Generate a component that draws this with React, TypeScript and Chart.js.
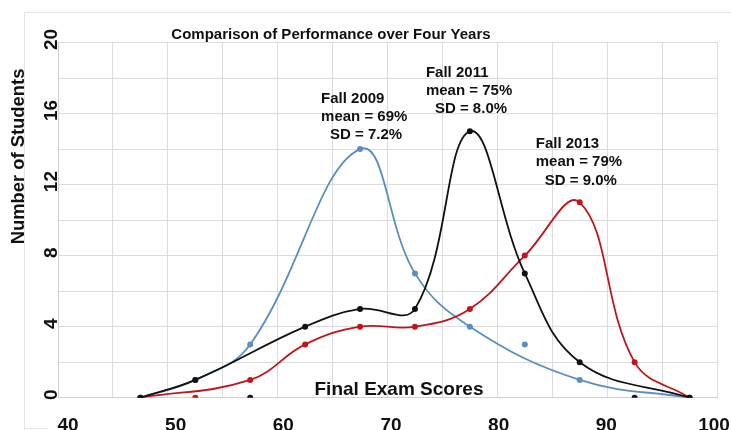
import React, { useEffect, useRef } from "react";
import { Chart, registerables } from "chart.js";

Chart.register(...registerables);

// Bin centres (final exam score, %)
const fall2009X = [47.5, 52.5, 57.5, 67.5, 72.5, 77.5, 87.5, 97.5];
const fall2009Y = [0, 1, 3, 14, 7, 4, 1, 0];
const fall2011X = [47.5, 52.5, 62.5, 67.5, 72.5, 77.5, 82.5, 87.5, 97.5];
const fall2011Y = [0, 1, 4, 5, 5, 15, 7, 2, 0];
const fall2013X = [47.5, 57.5, 62.5, 67.5, 72.5, 77.5, 82.5, 87.5, 92.5, 97.5];
const fall2013Y = [0, 1, 3, 4, 4, 5, 8, 11, 2, 0];
// stray markers not joined by the smoothed curves
const stray2009X = [82.5];
const stray2009Y = [3];
const stray2011X = [57.5, 92.5];
const stray2011Y = [0, 0];
const stray2013X = [52.5];
const stray2013Y = [0];

const xTickLabels = [40, 50, 60, 70, 80, 90, 100];
const yTickLabels = [0, 4, 8, 12, 16, 20];

const chartTitle = "Comparison of Performance over Four Years";
const xTitle = "Final Exam Scores";
const yTitle = "Number of Students";

const notes = [
  { lines: ["Fall 2009", "mean = 69%", "SD = 7.2%"], x: 63.95, y: 16.6 },
  { lines: ["Fall 2011", "mean = 75%", "SD = 8.0%"], x: 73.5, y: 18.07 },
  { lines: ["Fall 2013", "mean = 79%", "SD = 9.0%"], x: 83.5, y: 14.06 },
];

const BLUE = "#5b8ec2";
const BLACK = "#111111";
const RED = "#c0161b";
const FONT = "'Liberation Sans', Arial, sans-serif";

const pts = (xs: number[], ys: number[]) => xs.map((x, i) => ({ x, y: ys[i] }));

const decorPlugin = {
  id: "decor",
  beforeDraw(chart: any) {
    const ctx = chart.ctx;
    ctx.save();
    ctx.fillStyle = "#ffffff";
    ctx.fillRect(0, 0, chart.width, chart.height);
    ctx.strokeStyle = "#e6e6e6";
    ctx.lineWidth = 1;
    ctx.beginPath();
    ctx.moveTo(24.5, 12.5);
    ctx.lineTo(chart.width, 12.5);
    ctx.moveTo(24.5, 12.5);
    ctx.lineTo(24.5, chart.height);
    ctx.moveTo(24.5, 428.5);
    ctx.lineTo(48, 428.5);
    ctx.stroke();
    ctx.restore();
  },
  afterDraw(chart: any) {
    const ctx = chart.ctx;
    const xs = chart.scales.x;
    const ys = chart.scales.y;
    ctx.save();
    ctx.fillStyle = "#111111";
    // x tick labels (source image labels drift slightly from the grid)
    ctx.font = `bold 19px ${FONT}`;
    ctx.textAlign = "center";
    ctx.textBaseline = "alphabetic";
    xTickLabels.forEach((v) => {
      const drift = 10 - (13 * (v - 40)) / 60;
      ctx.fillText(String(v), xs.getPixelForValue(v) + drift, 431);
    });
    // y tick labels (rotated)
    yTickLabels.forEach((v) => {
      ctx.save();
      ctx.translate(57, ys.getPixelForValue(v) - 3);
      ctx.rotate(-Math.PI / 2);
      ctx.fillText(String(v), 0, 0);
      ctx.restore();
    });
    // y title
    ctx.save();
    ctx.font = `bold 18.4px ${FONT}`;
    ctx.translate(23.5, 156.5);
    ctx.rotate(-Math.PI / 2);
    ctx.fillText(yTitle, 0, 0);
    ctx.restore();
    // x title inside plot
    ctx.font = `bold 19px ${FONT}`;
    ctx.fillText(xTitle, 399, 395);
    // chart title
    ctx.font = `bold 15px ${FONT}`;
    ctx.fillText(chartTitle, 331, 38.5);
    // notes
    ctx.textAlign = "left";
    notes.forEach((n) => {
      const px = xs.getPixelForValue(n.x);
      const py = ys.getPixelForValue(n.y);
      n.lines.forEach((t, i) => {
        ctx.fillText(t, px + (i === 2 ? 9 : 0), py + i * 18.3);
      });
    });
    ctx.restore();
  },
};

export default function App() {
  const ref = useRef<HTMLCanvasElement | null>(null);
  useEffect(() => {
    if (!ref.current) return;
    const lineDs = (label: string, xs: number[], ys: number[], color: string) => ({
      label,
      data: pts(xs, ys),
      borderColor: color,
      backgroundColor: color,
      borderWidth: 1.8,
      pointRadius: 3,
      pointBorderWidth: 0,
      tension: 0.4,
      fill: false,
      showLine: true,
    });
    const dotDs = (label: string, xs: number[], ys: number[], color: string) => ({
      label,
      data: pts(xs, ys),
      borderColor: color,
      backgroundColor: color,
      pointRadius: 3,
      pointBorderWidth: 0,
      showLine: false,
    });
    const chart = new Chart(ref.current, {
      type: "line",
      data: {
        datasets: [
          lineDs("Fall 2011", fall2011X, fall2011Y, BLACK),
          dotDs("Fall 2011 extra", stray2011X, stray2011Y, BLACK),
          lineDs("Fall 2013", fall2013X, fall2013Y, RED),
          dotDs("Fall 2013 extra", stray2013X, stray2013Y, RED),
          lineDs("Fall 2009", fall2009X, fall2009Y, BLUE),
          dotDs("Fall 2009 extra", stray2009X, stray2009Y, BLUE),
        ] as any,
      },
      options: {
        animation: false,
        responsive: false,
        maintainAspectRatio: false,
        layout: { padding: { left: 58, right: 14, top: 42.5, bottom: 32.3 } },
        plugins: { legend: { display: false }, tooltip: { enabled: false }, title: { display: false } },
        scales: {
          x: {
            type: "linear",
            min: 40,
            max: 100,
            ticks: { display: false, stepSize: 5 },
            grid: { color: "#dcdcdc", drawTicks: false, lineWidth: 1 },
            border: { display: true, color: "#d0d0d0" },
          },
          y: {
            type: "linear",
            min: 0,
            max: 20,
            ticks: { display: false, stepSize: 2 },
            grid: { color: "#dcdcdc", drawTicks: false, lineWidth: 1 },
            border: { display: true, color: "#d0d0d0" },
          },
        },
      },
      plugins: [decorPlugin],
    });
    return () => chart.destroy();
  }, []);
  return (
    <div style={{ position: "fixed", left: 0, top: 0, width: 731, height: 430, background: "#fff" }}>
      <canvas ref={ref} width={731} height={430} style={{ display: "block" }} />
    </div>
  );
}
